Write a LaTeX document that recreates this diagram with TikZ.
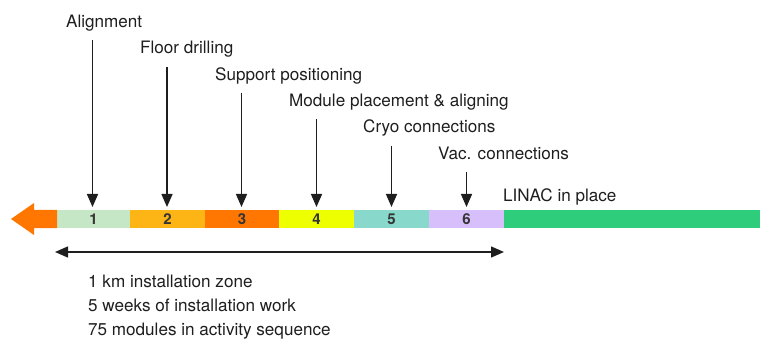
\documentclass[tikz,border=0pt]{standalone}
\usepackage{fontspec}
\setmainfont{TeX Gyre Heros}
\usetikzlibrary{arrows.meta}
\definecolor{txt}{HTML}{1E1E1E}
\definecolor{cA}{HTML}{C6E7C6}
\definecolor{cB}{HTML}{FDB515}
\definecolor{cC}{HTML}{FF7600}
\definecolor{cD}{HTML}{EEFF00}
\definecolor{cE}{HTML}{88D9CB}
\definecolor{cF}{HTML}{D6BFFA}
\definecolor{cG}{HTML}{2DCD7B}
\tikzset{
  seg/.style={minimum width=75pt,minimum height=18pt,inner sep=0pt,outer sep=0pt,
    font=\fontsize{15}{17}\selectfont\bfseries,text=txt!90},
  lbl/.style={anchor=base west,inner sep=0pt,font=\fontsize{17.1}{19}\selectfont,text=txt},
  arr/.style={-{Triangle[length=13pt,width=11pt]},line width=1.4pt,draw=txt},
}
\begin{document}
\begin{tikzpicture}[x=1pt,y=-1pt]
\useasboundingbox (0,0) rectangle (760,339);
% segments
\node[seg,fill=cA,minimum width=73pt] (s1) at (93.5,219) {1};
\node[seg,fill=cB,anchor=west] (s2) at (s1.east) {2};
\node[seg,fill=cC,anchor=west,minimum width=74pt] (s3) at (s2.east) {3};
\node[seg,fill=cD,anchor=west] (s4) at (s3.east) {4};
\node[seg,fill=cE,anchor=west] (s5) at (s4.east) {5};
\node[seg,fill=cF,anchor=west] (s6) at (s5.east) {6};
\node[seg,fill=cG,anchor=west,minimum width=256pt] (linac) at (s6.east) {};
% orange arrow
\fill[cC] (s1.south west) -- (34,228) -- (34,235) -- (11,219) -- (34,203) -- (34,210) -- (s1.north west) -- cycle;
% labels
\node[lbl] (l1) at (66,27.3) {Alignment};
\node[lbl] (l2) at (140,53.8) {Floor drilling};
\node[lbl] (l3) at (215,80.2) {Support positioning};
\node[lbl] (l4) at (289,106.6) {Module placement \& aligning};
\node[lbl] (l5) at (363,133) {Cryo connections};
\node[lbl] (l6) at (438,159.4) {Vac. connections};
\node[lbl] (l7) at (503,201.7) {LINAC in place};
% arrow starts
\coordinate (a1) at (92.5,40);
\coordinate (a2) at (167,67);
\coordinate (a3) at (241.5,93);
\coordinate (a4) at (316.5,119);
\coordinate (a5) at (391.5,146);
\coordinate (a6) at (466.5,172);
\coordinate (b1) at (92.5,207);
\coordinate (b2) at (167,207);
\coordinate (b3) at (241.5,207);
\coordinate (b4) at (316.5,207);
\coordinate (b5) at (391.5,207);
\coordinate (b6) at (466.5,207);
\foreach \i in {1,...,6}{\draw[arr] (a\i) -- (b\i);}
% span arrow
\coordinate (z1) at (55,252);
\coordinate (z2) at (504,252);
\draw[{Triangle[length=13pt,width=11pt]}-{Triangle[length=13pt,width=11pt]},line width=1.4pt,draw=txt] (z1) -- (z2);
% bottom text
\node[lbl] (t1) at (88,287.5) {1 km installation zone};
\node[lbl] (t2) at (88,311.3) {5 weeks of installation work};
\node[lbl] (t3) at (88,335) {75 modules in activity sequence};
\end{tikzpicture}
\end{document}
